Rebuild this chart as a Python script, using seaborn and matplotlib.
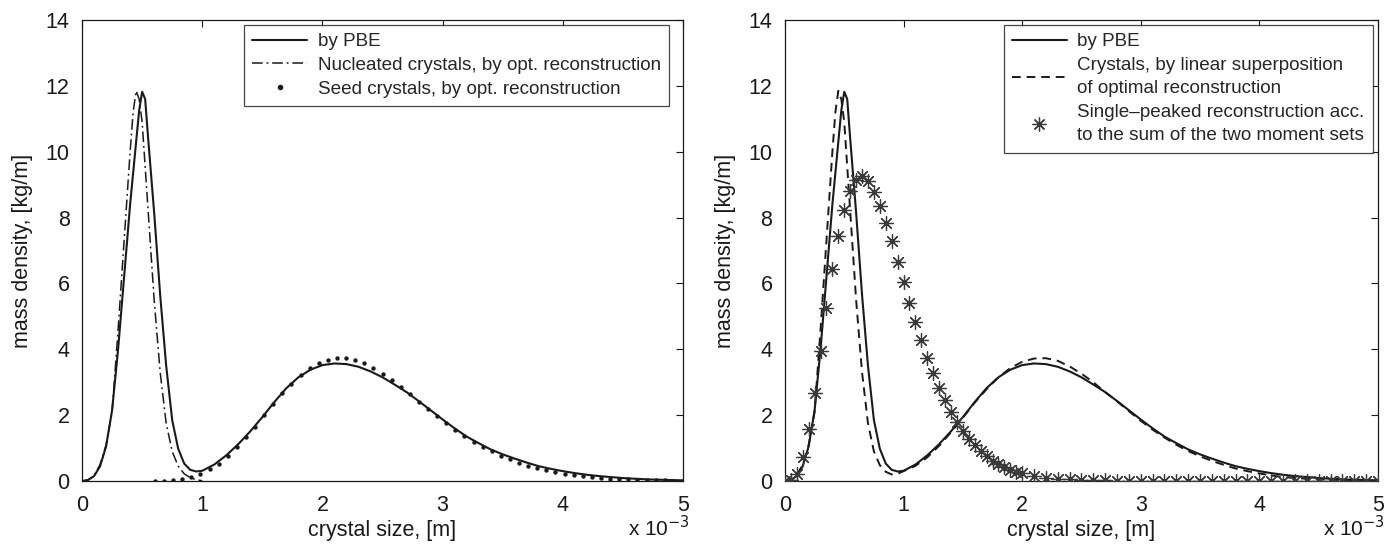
"""
Mass density of crystals: PBE vs. reconstructions (two panels).
"""

import numpy as np
import pandas as pd
import matplotlib
matplotlib.use("Agg")
import matplotlib.pyplot as plt
import seaborn as sns
from matplotlib.lines import Line2D

# crystal size in units of 1e-3 m
pbe_x = [0, 0.05, 0.1, 0.15, 0.2, 0.25, 0.3, 0.35, 0.4, 0.45, 0.475, 0.5, 0.525,
         0.55, 0.6, 0.65, 0.7, 0.75, 0.8, 0.85, 0.9, 0.95, 1.0, 1.1, 1.2, 1.3,
         1.4, 1.5, 1.6, 1.7, 1.8, 1.9, 2.0, 2.1, 2.2, 2.3, 2.4, 2.5, 2.6, 2.7,
         2.8, 2.9, 3.0, 3.1, 3.2, 3.3, 3.4, 3.5, 3.6, 3.7, 3.8, 3.9, 4.0, 4.1,
         4.2, 4.3, 4.4, 4.5, 4.6, 4.7, 4.8, 4.9, 5.0]
pbe_y = [0, 0.03, 0.15, 0.45, 1.05, 2.15, 4.0, 6.2, 8.4, 10.3, 11.25, 11.82, 11.6,
         10.4, 8.15, 5.65, 3.5, 1.85, 0.98, 0.53, 0.34, 0.29, 0.31, 0.5, 0.78, 1.12,
         1.51, 1.94, 2.4, 2.82, 3.15, 3.38, 3.52, 3.57, 3.55, 3.47, 3.33, 3.15, 2.93,
         2.7, 2.43, 2.15, 1.87, 1.6, 1.35, 1.15, 0.96, 0.81, 0.68, 0.56, 0.45, 0.37,
         0.3, 0.24, 0.19, 0.15, 0.12, 0.09, 0.07, 0.05, 0.04, 0.03, 0.02]

nuc_x = [0, 0.05, 0.1, 0.15, 0.2, 0.25, 0.3, 0.35, 0.4, 0.425, 0.45, 0.475, 0.5,
         0.55, 0.6, 0.65, 0.7, 0.75, 0.8, 0.85, 0.9, 0.95, 1.0]
nuc_y = [0, 0.03, 0.17, 0.5, 1.1, 2.1, 4.6, 7.3, 10.0, 11.2, 11.85, 11.6, 10.9,
         8.2, 5.5, 3.3, 1.75, 0.9, 0.45, 0.22, 0.1, 0.04, 0.01]

seed_x = [0.606, 0.682, 0.758, 0.833, 0.909, 0.985, 1.061, 1.136, 1.212, 1.288,
          1.364, 1.439, 1.515, 1.591, 1.667, 1.742, 1.818, 1.894, 1.970, 2.045,
          2.121, 2.197, 2.273, 2.348, 2.424, 2.500, 2.576, 2.652, 2.727, 2.803,
          2.879, 2.955, 3.030, 3.106, 3.182, 3.258, 3.333, 3.409, 3.485, 3.561,
          3.636, 3.712, 3.788, 3.864, 3.939, 4.015, 4.091, 4.167, 4.242, 4.318,
          4.394, 4.470, 4.545, 4.621, 4.697, 4.773, 4.848, 4.924, 5.000]
seed_y = [0.0, 0.01, 0.02, 0.05, 0.12, 0.22, 0.36, 0.53, 0.76, 1.03,
          1.33, 1.65, 1.99, 2.34, 2.66, 2.95, 3.21, 3.42, 3.57, 3.68,
          3.74, 3.73, 3.67, 3.57, 3.43, 3.26, 3.06, 2.85, 2.63, 2.41,
          2.18, 1.96, 1.75, 1.55, 1.36, 1.19, 1.04, 0.90, 0.77, 0.66,
          0.56, 0.47, 0.39, 0.33, 0.27, 0.22, 0.18, 0.14, 0.11, 0.09,
          0.07, 0.06, 0.05, 0.04, 0.03, 0.02, 0.02, 0.01, 0.01]

sup_x = [0, 0.05, 0.1, 0.15, 0.2, 0.25, 0.3, 0.35, 0.4, 0.425, 0.45, 0.475, 0.5,
         0.55, 0.6, 0.65, 0.7, 0.75, 0.8, 0.85, 0.9, 0.95, 1.0, 1.1, 1.2, 1.3,
         1.4, 1.5, 1.6, 1.7, 1.8, 1.9, 2.0, 2.1, 2.2, 2.3, 2.4, 2.5, 2.6, 2.7,
         2.8, 2.9, 3.0, 3.1, 3.2, 3.3, 3.4, 3.5, 3.6, 3.7, 3.8, 3.9, 4.0, 4.1,
         4.2, 4.3, 4.4, 4.5, 4.6, 4.7, 4.8, 4.9, 5.0]
sup_y = [0, 0.03, 0.17, 0.5, 1.1, 2.1, 4.6, 7.3, 10.0, 11.2, 11.85, 11.6, 10.9,
         8.2, 5.5, 3.3, 1.75, 0.9, 0.48, 0.28, 0.2, 0.22, 0.3, 0.46, 0.72, 1.07,
         1.48, 1.92, 2.38, 2.79, 3.15, 3.43, 3.62, 3.72, 3.73, 3.65, 3.48, 3.26, 3.0,
         2.7, 2.42, 2.12, 1.83, 1.56, 1.32, 1.1, 0.91, 0.75, 0.61, 0.49, 0.38, 0.3,
         0.23, 0.17, 0.12, 0.09, 0.07, 0.05, 0.04, 0.03, 0.02, 0.015, 0.01]

star_x = [0, 0.05, 0.1, 0.15, 0.2, 0.25, 0.3, 0.35, 0.4, 0.45, 0.5, 0.55, 0.6,
          0.65, 0.7, 0.75, 0.8, 0.85, 0.9, 0.95, 1.0, 1.05, 1.1, 1.15, 1.2, 1.25,
          1.3, 1.35, 1.4, 1.45, 1.5, 1.55, 1.6, 1.65, 1.7, 1.75, 1.8, 1.85, 1.9,
          1.95, 2.0, 2.1, 2.2, 2.3, 2.4, 2.5, 2.6, 2.7, 2.8, 2.9, 3.0, 3.1, 3.2,
          3.3, 3.4, 3.5, 3.6, 3.7, 3.8, 3.9, 4.0, 4.1, 4.2, 4.3, 4.4, 4.5, 4.6,
          4.7, 4.8, 4.9, 5.0]
star_y = [0, 0.02, 0.2, 0.74, 1.58, 2.67, 3.95, 5.25, 6.43, 7.45, 8.24, 8.82, 9.15,
          9.25, 9.11, 8.79, 8.36, 7.85, 7.28, 6.66, 6.04, 5.41, 4.83, 4.27, 3.74, 3.28,
          2.84, 2.46, 2.11, 1.79, 1.52, 1.29, 1.08, 0.9, 0.75, 0.62, 0.51, 0.42, 0.34,
          0.28, 0.23, 0.15, 0.1, 0.07, 0.05, 0.03, 0.02, 0.02, 0.01, 0.01, 0, 0, 0,
          0, 0, 0, 0, 0, 0, 0, 0, 0, 0, 0, 0, 0, 0,
          0, 0, 0, 0]

x_ticks = [0, 1, 2, 3, 4, 5]
y_ticks = [0, 2, 4, 6, 8, 10, 12, 14]

sns.set_theme(style="white")
plt.rcParams["font.family"] = ["Liberation Sans", "DejaVu Sans"]
plt.rcParams["xtick.direction"] = "in"
plt.rcParams["ytick.direction"] = "in"

pbe = pd.DataFrame({"x": pbe_x, "y": pbe_y})
nuc = pd.DataFrame({"x": nuc_x, "y": nuc_y})
seed = pd.DataFrame({"x": seed_x, "y": seed_y})
sup = pd.DataFrame({"x": sup_x, "y": sup_y})
star = pd.DataFrame({"x": star_x, "y": star_y})

fig = plt.figure(figsize=(13.93, 5.51), dpi=100)
ax1 = fig.add_axes([0.0589, 0.127, 0.4314, 0.8367])
ax2 = fig.add_axes([0.5635, 0.127, 0.4257, 0.8367])

black = "#1a1a1a"
star_col = "#3a3a3a"
asterisk = (8, 2, 0)
dashdot = (0, (7, 2.5, 1.2, 2.5))
dashed = (0, (4.5, 3))

# left panel
sns.lineplot(data=pbe, x="x", y="y", ax=ax1, color=black, lw=1.5,
             sort=False, estimator=None)
sns.lineplot(data=nuc, x="x", y="y", ax=ax1, color=black, lw=1.1,
             linestyle=dashdot, sort=False, estimator=None)
sns.scatterplot(data=seed, x="x", y="y", ax=ax1, color=black, marker="o",
                s=10, linewidth=0)

# right panel
sns.lineplot(data=pbe, x="x", y="y", ax=ax2, color=black, lw=1.5,
             sort=False, estimator=None)
sns.lineplot(data=sup, x="x", y="y", ax=ax2, color=black, lw=1.4,
             linestyle=dashed, sort=False, estimator=None)
sns.scatterplot(data=star, x="x", y="y", ax=ax2, color=star_col,
                marker=asterisk, s=100, linewidth=0.9, zorder=3)

for ax in (ax1, ax2):
    ax.set_xlim(0, 5)
    ax.set_ylim(0, 14)
    ax.set_xticks(x_ticks)
    ax.set_yticks(y_ticks)
    ax.tick_params(axis="both", which="both", top=True, right=True,
                   length=5, width=0.8, color=black, labelsize=15.5,
                   labelcolor=black)
    ax.tick_params(axis="x", pad=10)
    ax.tick_params(axis="y", pad=9)
    for sp in ax.spines.values():
        sp.set_color(black)
        sp.set_linewidth(0.9)
        sp.set_visible(True)
    ax.set_xlabel("crystal size, [m]", fontsize=15.5, color=black, labelpad=3)
    ax.set_ylabel("mass density, [kg/m]", fontsize=15.5, color=black, labelpad=9)
    ax.text(1.012, -0.1, r"x 10$^{-3}$", transform=ax.transAxes, ha="right",
            va="center", fontsize=15, color=black)

legend_kw = dict(loc="upper right", fontsize=13.6, frameon=True,
                 fancybox=False, edgecolor=black, handlelength=2.9,
                 borderaxespad=0, borderpad=0.45, labelspacing=0.34,
                 handletextpad=0.55)

h1 = [
    Line2D([], [], color=black, lw=1.5),
    Line2D([], [], color=black, lw=1.1, linestyle=dashdot),
    Line2D([], [], color=black, marker="o", ms=3.0, lw=0),
]
l1 = ["by PBE", "Nucleated crystals, by opt. reconstruction",
      "Seed crystals, by opt. reconstruction"]
leg1 = ax1.legend(h1, l1, bbox_to_anchor=(0.977, 0.99), **legend_kw)
leg1.get_frame().set_linewidth(0.9)

h2 = [
    Line2D([], [], color=black, lw=1.5),
    Line2D([], [], color=black, lw=1.4, linestyle=dashed),
    Line2D([], [], color=star_col, marker=asterisk, ms=10, mew=0.9, lw=0),
]
l2 = ["by PBE", "Crystals, by linear superposition\nof optimal reconstruction",
      "Single\u2013peaked reconstruction acc.\nto the sum of the two moment sets"]
leg2 = ax2.legend(h2, l2, bbox_to_anchor=(0.9916, 0.99), **legend_kw)
leg2.get_frame().set_linewidth(0.9)
for t in leg2.get_texts():
    t.set_linespacing(1.5)

fig.savefig("out.png", dpi=100)
plt.close("all")
